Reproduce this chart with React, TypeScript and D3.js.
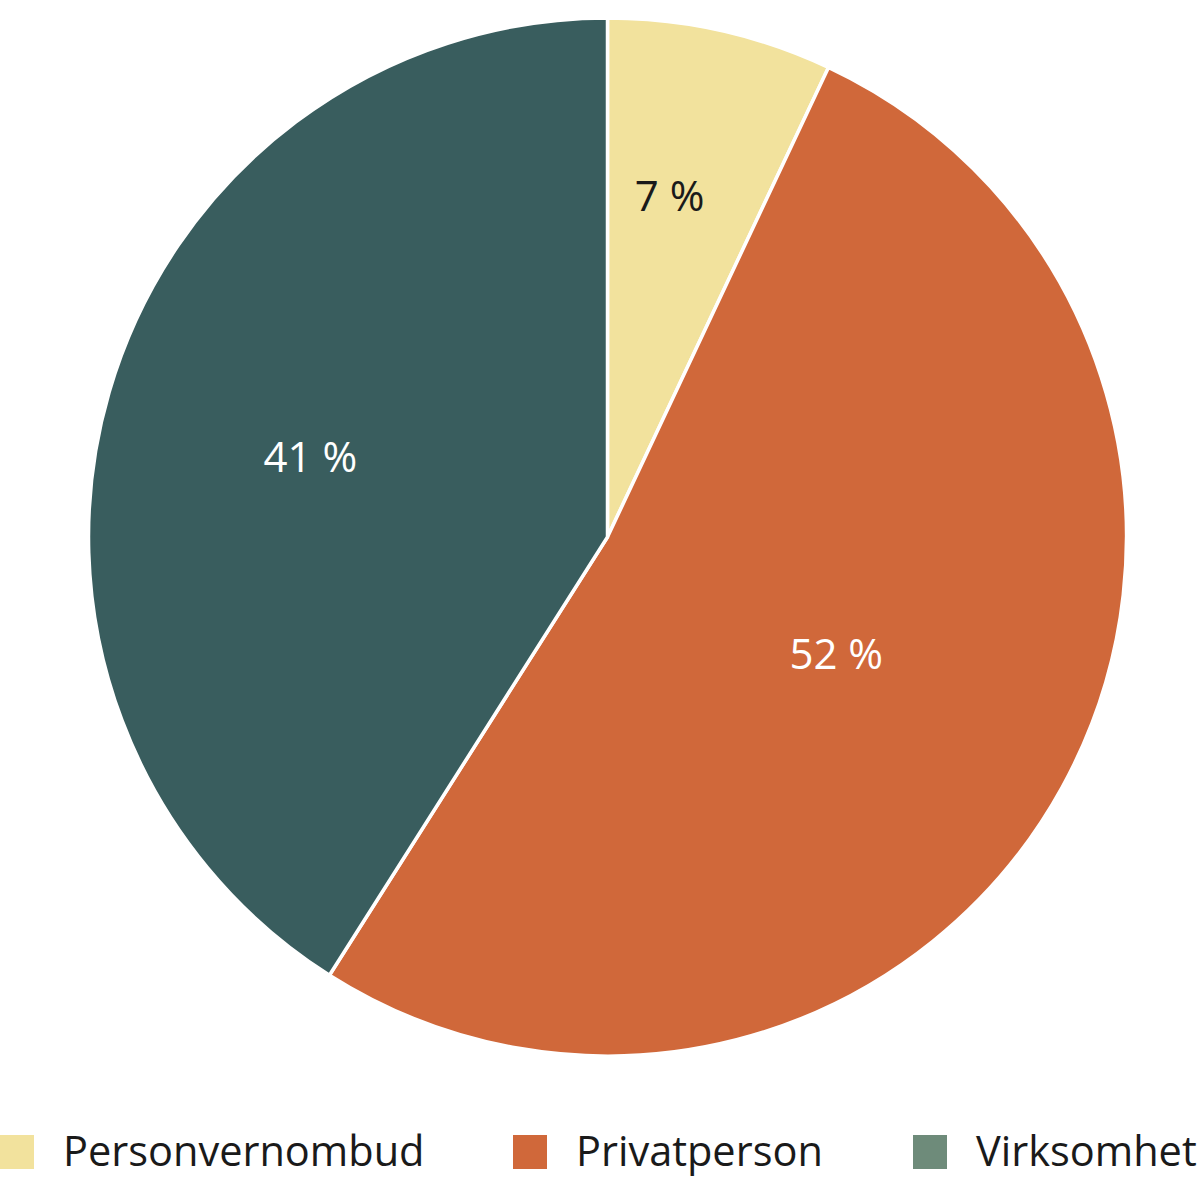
import React from 'react';
import * as d3 from 'd3';

const categories = ['Personvernombud', 'Privatperson', 'Virksomhet'];
const shares = [7, 52, 41];
const sliceColors = ['#F2E29D', '#D0683A', '#395D5E'];
const legendColors = ['#F2E29D', '#D0683A', '#6E8B7A'];
const labelColors = ['#1a1a1a', '#ffffff', '#ffffff'];

const width = 1200;
const height = 1193;
const cx = 607.5;
const cy = 537;
const radius = 519;
// labels sit at different distances from the centre in the original
const labelFactor = [0.668, 0.495, 0.593];
const labelShift = [-0.04, -0.03, -0.02];
const legendX = [0, 513, 913];

const FONT = '"Open Sans", "Noto Sans", sans-serif';

const App: React.FC = () => {
  const pie = d3.pie<number>().sort(null).value(d => d);
  const arcs = pie(shares);
  const arc = d3.arc<d3.PieArcDatum<number>>().innerRadius(0).outerRadius(radius);

  return (
    <div style={{ position: 'absolute', left: 0, top: 0 }}>
      <svg width={width} height={height} style={{ display: 'block', background: '#fff' }}>
        <g transform={`translate(${cx},${cy})`}>
          {arcs.map((a, i) => (
            <path key={i} d={arc(a) || ''} fill={sliceColors[i]} stroke="#fff" strokeWidth={3.5} strokeLinejoin="round" />
          ))}
          {arcs.map((a, i) => {
            const r = radius * labelFactor[i];
            const ang = (a.startAngle + a.endAngle) / 2 + labelShift[i];
            const x = r * Math.sin(ang);
            const y = -r * Math.cos(ang);
            return (
              <text
                key={i}
                x={x}
                y={y}
                dy="0.36em"
                textAnchor="middle"
                fontFamily={FONT}
                fontSize={42}
                fill={labelColors[i]}
              >
                {`${shares[i]} %`}
              </text>
            );
          })}
        </g>
        <g>
          {categories.map((c, i) => (
            <g key={c} transform={`translate(${legendX[i]},1135)`}>
              <rect width={34} height={34} fill={legendColors[i]} />
              <text x={63} y={31} fontFamily={FONT} fontSize={41.5} fill="#1a1a1a">
                {c}
              </text>
            </g>
          ))}
        </g>
      </svg>
    </div>
  );
};

export default App;
